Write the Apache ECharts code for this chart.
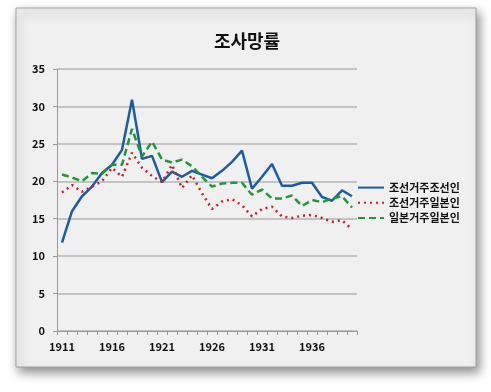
<!DOCTYPE html>
<html><head><meta charset="utf-8">
<script src="https://cdn.jsdelivr.net/npm/echarts@6/dist/echarts.min.js"></script>
<style>html,body{margin:0;padding:0;background:#fff;}#c{width:491px;height:392px;}</style>
</head><body><div id="c"></div>
<script>
var years = [];
for (var y = 1911; y <= 1940; y++) years.push(String(y));
var seriesNames = ['조선거주조선인', '조선거주일본인', '일본거주일본인'];
var koreaKorean = [11.8,16.0,18.0,19.3,21.1,22.2,24.2,30.9,23.0,23.4,19.9,21.3,20.6,21.4,20.9,20.4,21.4,22.6,24.1,19.0,20.6,22.3,19.4,19.4,19.8,19.8,17.9,17.4,18.8,18.0];
var koreaJapanese = [18.5,19.5,18.6,19.3,20.0,21.8,20.6,23.8,21.8,20.7,19.9,22.2,19.1,20.8,18.4,16.3,17.3,17.6,16.8,15.3,16.3,16.6,15.3,15.1,15.4,15.5,15.1,14.6,14.8,13.6];
var japanJapanese = [20.9,20.5,20.0,21.1,21.0,22.2,22.2,27.0,23.3,25.3,22.9,22.5,22.9,22.0,20.6,19.3,19.7,19.8,19.8,18.2,18.9,17.7,17.7,18.1,16.7,17.5,17.2,17.7,18.0,16.5];

var font = '"Noto Sans CJK KR", "DejaVu Sans", sans-serif';
var chart = echarts.init(document.getElementById('c'), null, {renderer: 'canvas'});
chart.setOption({
  backgroundColor: '#ffffff',
  animation: false,
  graphic: [{
    type: 'rect', z: -10, silent: true,
    shape: {x: 16, y: 8, width: 460, height: 359},
    style: {fill: '#f0f0f0', stroke: '#a0a0a0', lineWidth: 1,
      shadowBlur: 10, shadowOffsetX: 3, shadowOffsetY: 5, shadowColor: 'rgba(0,0,0,0.45)'}
  }],
  title: {
    text: '조사망률', left: 242, textAlign: 'center', top: 27,
    textStyle: {fontFamily: font, fontSize: 18, fontWeight: 'bold', color: '#111'}
  },
  legend: {
    orient: 'vertical', left: 352, top: 177, itemGap: 4,
    itemWidth: 26, itemHeight: 14,
    itemStyle: {opacity: 0},
    textStyle: {fontFamily: font, fontSize: 11, fontWeight: 'bold', color: '#111'},
    data: seriesNames
  },
  grid: {left: 57, right: 134, top: 69, bottom: 61},
  xAxis: {
    type: 'category', data: years, boundaryGap: true,
    axisLine: {lineStyle: {color: '#999'}},
    axisTick: {show: true, interval: 0, length: 4, lineStyle: {color: '#999'}},
    axisLabel: {interval: 4, margin: 10, fontFamily: font, fontSize: 11, fontWeight: 'bold', color: '#111'},
    splitLine: {show: false}
  },
  yAxis: {
    type: 'value', min: 0, max: 35, interval: 5,
    axisLine: {show: true, lineStyle: {color: '#999'}},
    axisTick: {show: true, length: 4, lineStyle: {color: '#999'}},
    axisLabel: {margin: 12, fontFamily: font, fontSize: 11, fontWeight: 'bold', color: '#111'},
    splitLine: {lineStyle: {color: '#b4b4b4', width: 1.5}}
  },
  series: [
    {name: seriesNames[0], type: 'line', data: koreaKorean, symbol: 'none',
     color: '#1b5ca3', lineStyle: {color: '#1b5ca3', width: 2.5, type: 'solid'}},
    {name: seriesNames[1], type: 'line', data: koreaJapanese, symbol: 'none',
     color: '#c0222e', lineStyle: {color: '#c0222e', width: 2.5, type: [2, 4]}},
    {name: seriesNames[2], type: 'line', data: japanJapanese, symbol: 'none',
     color: '#23953a', lineStyle: {color: '#23953a', width: 2.5, type: [7, 4]}}
  ]
});
</script></body></html>
